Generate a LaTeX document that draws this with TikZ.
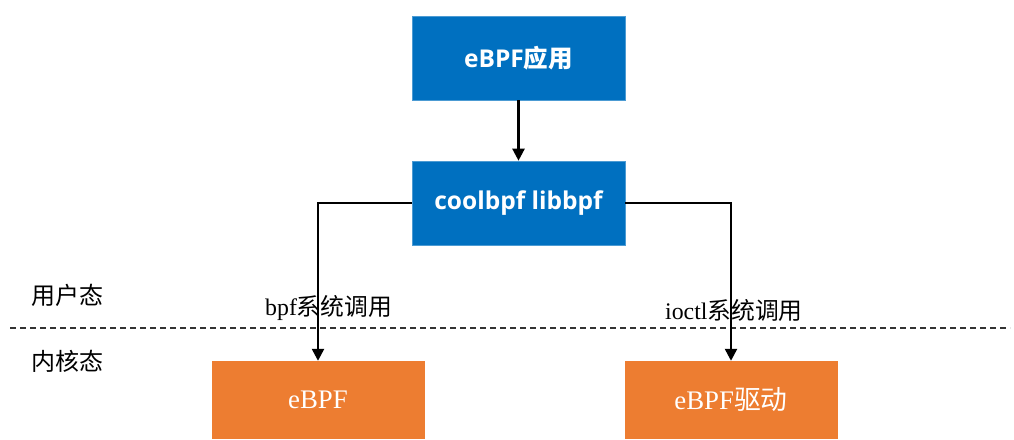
\documentclass[tikz,border=0pt]{standalone}
\usepackage{fontspec}
\setmainfont{Liberation Serif}
\newfontfamily\cjk{Noto Sans CJK SC}
\newfontfamily\latsans{Open Sans}
\usetikzlibrary{arrows.meta}
\definecolor{boxblue}{HTML}{0070C0}
\definecolor{boxorange}{HTML}{ED7D31}
\tikzset{
  bluebox/.style={fill=boxblue, draw=boxblue!70!white, line width=0.6pt, minimum width=213pt, minimum height=84pt, inner sep=0pt, text=white, font=\fontsize{24.5}{28}\selectfont\bfseries},
  orangebox/.style={fill=boxorange, minimum width=213pt, minimum height=78pt, inner sep=0pt, text=white, font=\fontsize{26.8}{30}\selectfont},
  conn/.style={line width=2.4pt, -{Triangle[width=12pt,length=12pt]}},
  lbl/.style={inner sep=0pt, font=\fontsize{23.8}{28}\selectfont},
  side/.style={inner sep=0pt, font=\fontsize{24}{28}\selectfont\cjk},
  sep/.style={line width=1.6pt, draw=black!80, dash pattern=on 6pt off 4pt}
}
\begin{document}
\begin{tikzpicture}[x=1pt,y=-1pt]
\useasboundingbox (0,0) rectangle (1014,439);
\node[bluebox] (app) at (518.5,58) {\latsans eBPF\cjk 应用};
\node[bluebox] (cool) at (518.5,203) {\latsans coolbpf libbpf};
\node[orangebox] (ebpf) at (318,400) {eBPF};
\node[orangebox] (drv) at (731,400) {eBPF{\cjk 驱动}};
\coordinate (dl) at (10,328);
\coordinate (dr) at (1010,328);
\draw[sep] (dl) -- (dr);
\draw[conn] (app.south) -- (cool.north);
\draw[conn] (cool.west) -| (ebpf.north);
\draw[conn] (cool.east) -| (drv.north);
\node[lbl, anchor=west] (l1) at (265,308) {bpf{\cjk 系统调用}};
\node[lbl, anchor=west] (l2) at (665,310) {ioctl{\cjk 系统调用}};
\node[side] (user) at (67,295) {用户态};
\node[side] (kern) at (67,361) {内核态};
\end{tikzpicture}
\end{document}
